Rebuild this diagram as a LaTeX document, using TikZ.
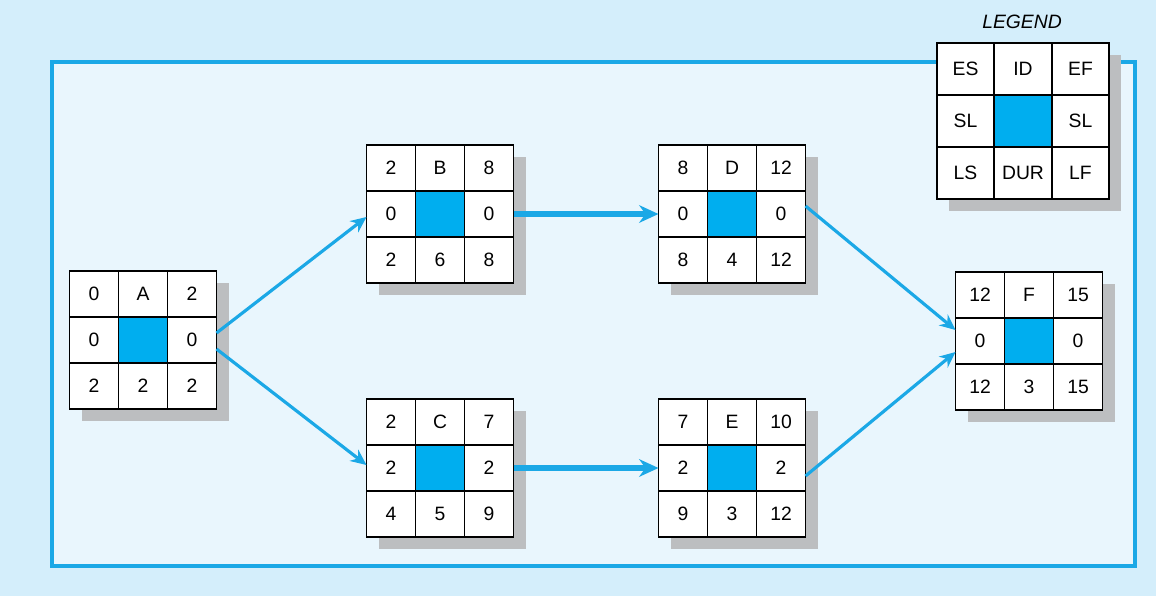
\documentclass[tikz,border=0pt]{standalone}
\usepackage{fontspec}
\setmainfont{Liberation Sans}
\usetikzlibrary{positioning,calc,arrows.meta}
\definecolor{bgblue}{HTML}{D4EEFB}
\definecolor{panelblue}{HTML}{E9F6FD}
\definecolor{lineblue}{HTML}{1BA8E6}
\definecolor{midblue}{HTML}{00AEEF}
\definecolor{shadowgray}{HTML}{BCBEC0}

\def\cw{0.98}
\def\ch{0.92}
% activity box: name (coordinate), ES, ID, EF, SL, SL, LS, DUR, LF
\newcommand{\actbox}[9]{%
   \fill[shadowgray] ($(#1)+({-1.5*\cw+0.24},{-1.5*\ch-0.24})$) rectangle
      ($(#1)+({1.5*\cw+0.24},{1.5*\ch-0.24})$);
   \node[cell, fill=midblue] (#1-c) at (#1) {};
   \node[cell, above=0pt of #1-c]  (#1-id)  {#3};
   \node[cell, left=0pt of #1-id]  (#1-es)  {#2};
   \node[cell, right=0pt of #1-id] (#1-ef)  {#4};
   \node[cell, left=0pt of #1-c]   (#1-sl)  {#5};
   \node[cell, right=0pt of #1-c]  (#1-sr)  {#6};
   \node[cell, below=0pt of #1-c]  (#1-dur) {#8};
   \node[cell, left=0pt of #1-dur] (#1-ls)  {#7};
   \node[cell, right=0pt of #1-dur](#1-lf)  {#9};
}

\begin{document}
\begin{tikzpicture}[
      cell/.style = {draw, line width=0.9pt, fill=white, inner sep=0pt,
         outer sep=0pt, minimum width=\cw cm, minimum height=\ch cm,
         font=\fontsize{11}{13}\selectfont},
      link/.style = {lineblue, line width=1.8pt, -{Stealth[length=9pt,width=8pt]}},
      crit/.style = {lineblue, line width=3.2pt, -{Stealth[length=11pt,width=10pt]}}
   ]

   % background and frame
   \fill[bgblue] (0,0) rectangle (23.12,-11.92);
   \draw[lineblue, fill=panelblue, line width=2.2pt] (1.04,-1.24) rectangle (22.70,-11.32);

   % activities
   \coordinate (A) at (2.86,-6.80);
   \coordinate (B) at (8.80,-4.28);
   \coordinate (D) at (14.64,-4.28);
   \coordinate (C) at (8.80,-9.36);
   \coordinate (E) at (14.64,-9.36);
   \coordinate (F) at (20.58,-6.82);

   \actbox{A}{0}{A}{2}{0}{0}{2}{2}{2}
   \actbox{B}{2}{B}{8}{0}{0}{2}{6}{8}
   \actbox{D}{8}{D}{12}{0}{0}{8}{4}{12}
   \actbox{C}{2}{C}{7}{2}{2}{4}{5}{9}
   \actbox{E}{7}{E}{10}{2}{2}{9}{3}{12}
   \actbox{F}{12}{F}{15}{0}{0}{12}{3}{15}

   % legend
   \def\cw{1.15}
   \def\ch{1.04}
   \coordinate (L) at (20.46,-2.42);
   \actbox{L}{ES}{ID}{EF}{SL}{SL}{LS}{DUR}{LF}
   \node[font=\itshape\fontsize{11}{13}\selectfont] (legend) at (20.44,-0.44) {LEGEND};

   % connectors
   \draw[link] ([yshift=0.14cm]A-sr.east) -- ([yshift=-0.06cm]B-sl.west);
   \draw[link] ([yshift=-0.18cm]A-sr.east) -- ([yshift=0.06cm]C-sl.west);
   \draw[crit] (B-sr.east) -- (D-sl.west);
   \draw[crit] (C-sr.east) -- (E-sl.west);
   \draw[link] ([yshift=0.16cm]D-sr.east) -- ([yshift=0.22cm]F-sl.west);
   \draw[link] ([yshift=-0.16cm]E-sr.east) -- ([yshift=-0.22cm]F-sl.west);
\end{tikzpicture}
\end{document}
